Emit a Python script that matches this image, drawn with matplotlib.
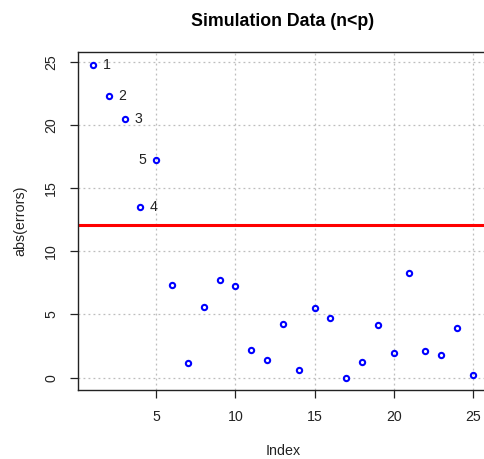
import numpy as np
import matplotlib
matplotlib.use("Agg")
import matplotlib.pyplot as plt

plt.rcParams['font.family'] = ['Liberation Sans', 'DejaVu Sans']

# absolute errors, index 1..25
index = list(range(1, 26))
abs_errors = [24.76, 22.31, 20.49, 13.53, 17.22, 7.31, 1.14, 5.62, 7.75, 7.25,
              2.22, 1.42, 4.27, 0.63, 5.49, 4.70, 0.00, 1.22, 4.19, 1.93,
              8.26, 2.14, 1.80, 3.93, 0.21]
threshold = 12.10
# labelled outliers: index, side
outlier_idx = [1, 2, 3, 4, 5]
outlier_side = ['right', 'right', 'right', 'right', 'left']
x_ticks = [5, 10, 15, 20, 25]
y_ticks = [0, 5, 10, 15, 20, 25]

fig = plt.figure(figsize=(4.85, 4.59), dpi=100)
# axes runs slightly past the right edge, like the cropped original
ax = fig.add_axes([77.7 / 485, 1 - 390.2 / 459, (488 - 77.7) / 485, (390.2 - 52.2) / 459])

ax.grid(True, color='#bdbdbd', linestyle=(0, (1.5, 2.5)), linewidth=0.9)
ax.set_axisbelow(True)

ax.plot(index, abs_errors, linestyle='none', marker='o', markersize=3.8,
        markerfacecolor='none', markeredgecolor='blue', markeredgewidth=1.5)
ax.axhline(threshold, color='red', linewidth=2.2)

for i, side in zip(outlier_idx, outlier_side):
    dx = 7 if side == 'right' else -7
    ax.annotate(str(i), (i, abs_errors[i - 1]), xytext=(dx, 0), textcoords='offset points',
                ha='left' if side == 'right' else 'right', va='center',
                fontsize=10.2, color='#222222')

ax.set_xlim(0.04, 25.96)
ax.set_ylim(-0.99, 25.75)
ax.set_xticks(x_ticks)
ax.set_yticks(y_ticks)
ax.tick_params(direction='out', length=6, width=0.9, labelsize=10.2, colors='#222222', pad=8)
for lab in ax.get_yticklabels():
    lab.set_rotation(90)
    lab.set_va('center')

for s in ax.spines.values():
    s.set_color('#222222')
    s.set_linewidth(1.0)

ax.set_xlabel('Index', fontsize=10.3, color='#222222', labelpad=15)
ax.set_ylabel('abs(errors)', fontsize=10.3, color='#222222', labelpad=12)
ax.set_title('Simulation Data (n<p)', fontsize=12.8, fontweight='bold', pad=19)

fig.savefig('out.png', dpi=100)
